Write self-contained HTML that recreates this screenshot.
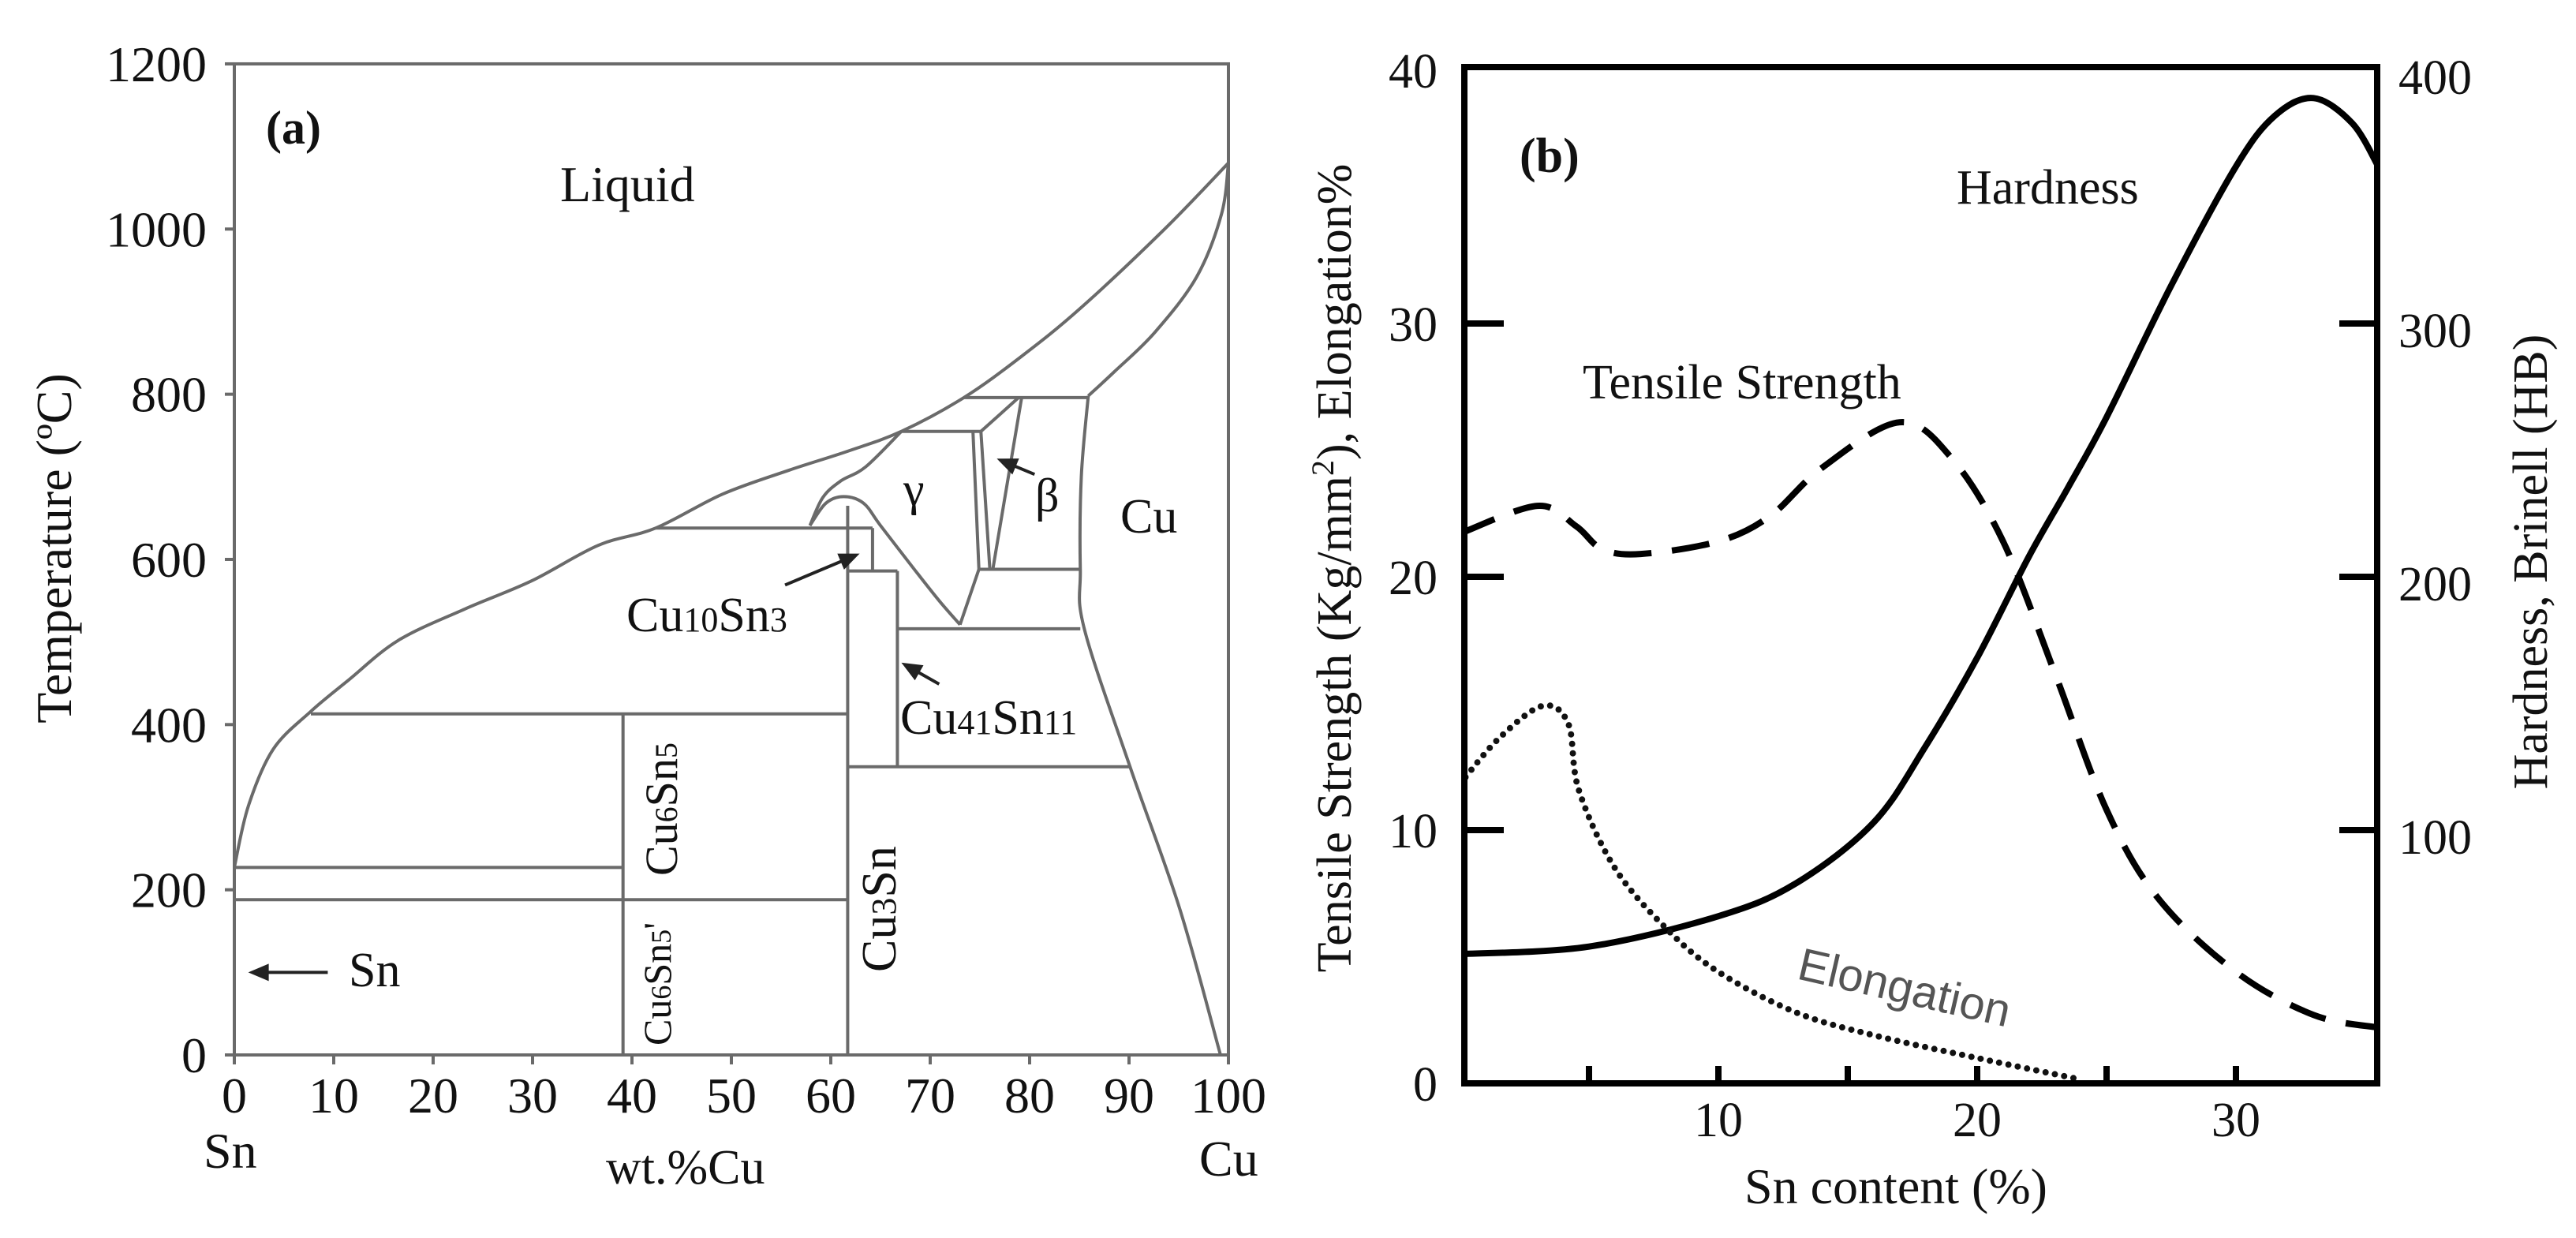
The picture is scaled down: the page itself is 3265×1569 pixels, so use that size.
<!DOCTYPE html>
<html><head><meta charset="utf-8"><style>
html,body{margin:0;padding:0;background:#fff}
svg{display:block}
text{font-family:"Liberation Serif",serif;fill:#111}
</style></head><body>
<svg id="fig" width="3265" height="1569" viewBox="0 0 3265 1569" xmlns="http://www.w3.org/2000/svg">
<g id="left"></g>
<g id="right"></g>
</svg>
<script>
// ---------- Panel (b) data ----------
const hardX = [0, 5, 10, 13, 16, 18, 20, 22, 23.5, 25, 27.5, 30, 31.5, 33, 34.5, 35.5];
const hardY = [5.1, 5.4, 6.6, 7.9, 10.3, 13.3, 16.8, 20.8, 23.5, 26.3, 31.5, 36.2, 38.2, 38.9, 37.9, 36.2];
const tensX = [0, 3, 4.5, 5.5, 7, 10, 12, 14, 17, 19, 21, 23, 25, 27, 30, 33, 35.5];
const tensY = [21.7, 22.8, 22.0, 21.1, 20.9, 21.4, 22.4, 24.3, 26.1, 24.7, 21.4, 16.2, 10.8, 7.3, 4.4, 2.7, 2.2];
const elonX = [0, 1.5, 3.2, 4.2, 4.6, 6, 8, 10, 13, 16, 20, 24];
const elonY = [11.8, 13.6, 14.9, 14.2, 11.6, 8.5, 6.1, 4.4, 2.8, 1.9, 1.0, 0.15];
const leftTicks = [0, 10, 20, 30, 40];
const rightTicks = [100, 200, 300, 400];
const xTicks = [10, 20, 30];

// ---------- Panel (a) data (wt.%Cu, °C) ----------
const liqX = [0, 1.4, 3.9, 7.7, 11.5, 16.5, 23.2, 29.9, 36.6, 42.4, 49.1, 55.8, 61.7, 67.1, 73.4, 79.2, 85.1, 93.5, 100];
const liqT = [227, 301, 370, 416, 454, 502, 540, 574, 617, 638, 679, 708, 731, 755, 796, 846, 904, 999, 1080];
const solX = [100, 99.3, 96.8, 92.6, 88.5, 85.9];
const solT = [1080, 1018, 942, 875, 827, 798];
const cuSideX = [85.9, 85.2, 85.1, 85.5, 90.1, 95.1, 99.2];
const cuSideT = [798, 700, 588, 516, 349, 177, 0];
const gOutX = [57.9, 59.2, 61.0, 63.5, 67.1];
const gOutT = [641, 675, 695, 712, 755];
const gInX = [57.9, 59.5, 61.3, 63.3, 65.0, 68.4, 70.9, 73.0];
const gInT = [641, 668, 676, 668, 641, 588, 550, 521];
const hLineT = [796, 755, 638, 586, 588, 516, 413, 349, 227, 188];
const hLineX1 = [73.4, 67.1, 42.4, 61.7, 74.9, 66.7, 7.7, 61.7, 0, 0];
const hLineX2 = [85.9, 75.1, 64.2, 66.7, 85.1, 85.1, 61.7, 90.1, 39.1, 61.7];
const vLineX = [39.1, 61.7, 66.7, 64.2];
const vLineT1 = [0, 0, 349, 586];
const vLineT2 = [413, 665, 586, 638];
const segA = [[74.3,755,74.9,588],[74.9,588,73.0,521],[75.1,755,76.0,588],[75.1,755,78.9,796],[79.2,796,76.3,588]];
const arrows = [[55.4,569,62.9,607],[80.5,703,76.7,722],[70.9,449,67.1,475],[9.4,100,1.4,100]];
const aXTicks = [0,10,20,30,40,50,60,70,80,90,100];
const aYTicks = [0,200,400,600,800,1000,1200];

const NS = "http://www.w3.org/2000/svg";
function mk(parent, tag, attrs, txt) {
  const e = document.createElementNS(NS, tag);
  for (const k in attrs) e.setAttribute(k, attrs[k]);
  if (txt !== undefined) e.textContent = txt;
  parent.appendChild(e);
  return e;
}
function smooth(pts) {
  let d = "M" + pts[0][0] + "," + pts[0][1];
  for (let i = 0; i < pts.length - 1; i++) {
    const p0 = pts[Math.max(0, i - 1)], p1 = pts[i], p2 = pts[i + 1], p3 = pts[Math.min(pts.length - 1, i + 2)];
    const c1x = p1[0] + (p2[0] - p0[0]) / 6, c1y = p1[1] + (p2[1] - p0[1]) / 6;
    const c2x = p2[0] - (p3[0] - p1[0]) / 6, c2y = p2[1] - (p3[1] - p1[1]) / 6;
    d += " C" + c1x + "," + c1y + " " + c2x + "," + c2y + " " + p2[0] + "," + p2[1];
  }
  return d;
}

// ===== Panel (a) =====
const L = document.getElementById("left");
const ax = v => 297 + v * 12.6;
const ay = t => 1337 - t * 1.0467;
const G = "#6a6a6a";
let e;
e = mk(L, "rect", {x: ax(0), y: ay(1200), width: ax(100) - ax(0), height: ay(0) - ay(1200), fill: "none", stroke: G, "stroke-width": 4});


aXTicks.forEach(v => {
  e = mk(L, "line", {x1: ax(v), x2: ax(v), y1: ay(0), y2: ay(0) + 12, stroke: G, "stroke-width": 4});
  
  
  e = mk(L, "text", {x: ax(v), y: 1410, "font-size": 64, "text-anchor": "middle"}, String(v));
  
  
});
aYTicks.forEach(v => {
  e = mk(L, "line", {x1: ax(0) - 12, x2: ax(0), y1: ay(v), y2: ay(v), stroke: G, "stroke-width": 4});
  
  
  e = mk(L, "text", {x: 262, y: ay(v) + 22, "font-size": 64, "text-anchor": "end"}, String(v));
  
  
});
function curveA(xs, ts, name) {
  const el = mk(L, "path", {d: smooth(xs.map((x, i) => [ax(x), ay(ts[i])])), fill: "none", stroke: G, "stroke-width": 4});
  
  
}
curveA(liqX, liqT, "liquidus-curve");
curveA(solX, solT, "solidus-curve");
curveA(cuSideX, cuSideT, "cu-solvus-curve");
curveA(gOutX, gOutT, "gamma-outer-curve");
curveA(gInX, gInT, "gamma-inner-curve");
hLineT.forEach((t, i) => {
  e = mk(L, "line", {x1: ax(hLineX1[i]), x2: ax(hLineX2[i]), y1: ay(t), y2: ay(t), stroke: G, "stroke-width": 4});
  
  
});
vLineX.forEach((x, i) => {
  e = mk(L, "line", {x1: ax(x), x2: ax(x), y1: ay(vLineT1[i]), y2: ay(vLineT2[i]), stroke: G, "stroke-width": 4});
  
  
});
segA.forEach(s => {
  e = mk(L, "line", {x1: ax(s[0]), y1: ay(s[1]), x2: ax(s[2]), y2: ay(s[3]), stroke: G, "stroke-width": 4});
  
  
});
arrows.forEach(a => {
  const x1 = ax(a[0]), y1 = ay(a[1]), x2 = ax(a[2]), y2 = ay(a[3]);
  const ang = Math.atan2(y2 - y1, x2 - x1);
  e = mk(L, "line", {x1: x1, y1: y1, x2: x2 - 18 * Math.cos(ang), y2: y2 - 18 * Math.sin(ang), stroke: "#222", "stroke-width": 4});
  
  
  const hx = x2, hy = y2, b = 26, w = 11;
  const bx = hx - b * Math.cos(ang), by = hy - b * Math.sin(ang);
  e = mk(L, "polygon", {points: hx + "," + hy + " " + (bx - w * Math.sin(ang)) + "," + (by + w * Math.cos(ang)) + " " + (bx + w * Math.sin(ang)) + "," + (by - w * Math.cos(ang)), fill: "#222"});
  
  
});
</script>
<script>
// Panel (a) labels
(function(){
const L = document.getElementById("left");
const items = [
 ['<text x="337" y="182" font-size="60" font-weight="bold">(a)</text>','panel-label-a'],
 ['<text x="710" y="255" font-size="64">Liquid</text>','liquid-label'],
 ['<text x="794" y="800" font-size="62">Cu<tspan font-size="44">10</tspan>Sn<tspan font-size="44">3</tspan></text>','cu10sn3-label'],
 ['<text x="1145" y="640" font-size="60">γ</text>','gamma-label'],
 ['<text x="1312" y="648" font-size="60">β</text>','beta-label'],
 ['<text x="1420" y="675" font-size="62">Cu</text>','cu-phase-label'],
 ['<text x="1141" y="930" font-size="62">Cu<tspan font-size="44">41</tspan>Sn<tspan font-size="44">11</tspan></text>','cu41sn11-label'],
 ['<text transform="translate(858,1110) rotate(-90)" font-size="58">Cu<tspan font-size="40">6</tspan>Sn<tspan font-size="40">5</tspan></text>','cu6sn5-label'],
 ['<text transform="translate(850,1325) rotate(-90)" font-size="50">Cu<tspan font-size="36">6</tspan>Sn<tspan font-size="36">5</tspan>\'</text>','cu6sn5-prime-label'],
 ['<text transform="translate(1135,1232) rotate(-90)" font-size="62">Cu<tspan font-size="44">3</tspan>Sn</text>','cu3sn-label'],
 ['<text x="442" y="1250" font-size="62">Sn</text>','sn-phase-label'],
 ['<text x="258" y="1480" font-size="64">Sn</text>','sn-axis-end-label'],
 ['<text x="768" y="1500" font-size="62">wt.%Cu</text>','x-axis-title-a'],
 ['<text x="1520" y="1490" font-size="64">Cu</text>','cu-axis-end-label'],
 ['<text transform="translate(90,695) rotate(-90)" font-size="64" text-anchor="middle">Temperature (ºC)</text>','y-axis-title-a']
];
items.forEach(it => {
  const g = document.createElementNS("http://www.w3.org/2000/svg","g");
  g.innerHTML = it[0];
  const t = g.firstChild;
  
  
  L.appendChild(t);
});
})();
</script>
<script>
// ===== Panel (b) =====
(function(){
const R = document.getElementById("right");
const NS = "http://www.w3.org/2000/svg";
function mk(parent, tag, attrs, txt) {
  const e = document.createElementNS(NS, tag);
  for (const k in attrs) e.setAttribute(k, attrs[k]);
  if (txt !== undefined) e.textContent = txt;
  parent.appendChild(e);
  return e;
}
const bx = v => 1850 + v * 32.8;
const by = v => 1373 - v * 32.1;
const byR = v => by(v / 10);
const X0 = 1856, X1 = 3013, Y0 = 85, Y1 = 1373;
let e;
function smooth(pts) {
  let d = "M" + pts[0][0] + "," + pts[0][1];
  for (let i = 0; i < pts.length - 1; i++) {
    const p0 = pts[Math.max(0, i - 1)], p1 = pts[i], p2 = pts[i + 1], p3 = pts[Math.min(pts.length - 1, i + 2)];
    d += " C" + (p1[0] + (p2[0] - p0[0]) / 6) + "," + (p1[1] + (p2[1] - p0[1]) / 6) + " " + (p2[0] - (p3[0] - p1[0]) / 6) + "," + (p2[1] - (p3[1] - p1[1]) / 6) + " " + p2[0] + "," + p2[1];
  }
  return d;
}
const clip = mk(R, "clipPath", {id: "clipb"});
mk(clip, "rect", {x: X0, y: Y0, width: X1 - X0, height: Y1 - Y0});
e = mk(R, "path", {d: smooth(hardX.map((x, i) => [bx(x), by(hardY[i])])), fill: "none", stroke: "#000", "stroke-width": 8, "clip-path": "url(#clipb)"});


e = mk(R, "path", {d: smooth(tensX.map((x, i) => [bx(x), by(tensY[i])])), fill: "none", stroke: "#000", "stroke-width": 8, "stroke-dasharray": "48 26", "clip-path": "url(#clipb)"});


e = mk(R, "path", {d: smooth(elonX.map((x, i) => [bx(x), by(elonY[i])])), fill: "none", stroke: "#111", "stroke-width": 8, "stroke-dasharray": "0 12", "stroke-linecap": "round", "clip-path": "url(#clipb)"});


e = mk(R, "rect", {x: X0, y: Y0, width: X1 - X0, height: Y1 - Y0, fill: "none", stroke: "#000", "stroke-width": 8});


leftTicks.forEach(v => {
  if (v > 0 && v < 40) {
    e = mk(R, "line", {x1: X0, x2: X0 + 50, y1: by(v), y2: by(v), stroke: "#000", "stroke-width": 8});
    
    
  }
  e = mk(R, "text", {x: 1822, y: by(v) + 22, "font-size": 62, "text-anchor": "end"}, String(v));
  
  
});
rightTicks.forEach(v => {
  if (v < 400) {
    e = mk(R, "line", {x1: X1 - 48, x2: X1, y1: byR(v), y2: byR(v), stroke: "#000", "stroke-width": 8});
    
    
  }
  e = mk(R, "text", {x: 3040, y: byR(v) + 30, "font-size": 62}, String(v));
  
  
});
[5, 10, 15, 20, 25, 30].forEach(v => {
  e = mk(R, "line", {x1: bx(v), x2: bx(v), y1: Y1, y2: Y1 - 22, stroke: "#000", "stroke-width": 8});
  
  
});
xTicks.forEach(v => {
  e = mk(R, "text", {x: bx(v), y: 1440, "font-size": 62, "text-anchor": "middle"}, String(v));
  
  
});
const items = [
 ['<text x="1926" y="218" font-size="62" font-weight="bold">(b)</text>','panel-label-b'],
 ['<text x="2480" y="258" font-size="62">Hardness</text>','hardness-label'],
 ['<text x="2006" y="505" font-size="62">Tensile Strength</text>','tensile-strength-label'],
 ['<text transform="translate(2276,1240) rotate(13)" font-size="58" style="font-family:\'Liberation Sans\',sans-serif;fill:#555">Elongation</text>','elongation-label'],
 ['<text x="2403" y="1525" font-size="64" text-anchor="middle">Sn content (%)</text>','x-axis-title-b'],
 ['<text transform="translate(1712,720) rotate(-90)" font-size="62" text-anchor="middle">Tensile Strength (Kg/mm<tspan font-size="40" dy="-22">2</tspan><tspan dy="22">), Elongation%</tspan></text>','left-y-axis-title-b'],
 ['<text transform="translate(3228,712) rotate(-90)" font-size="62" text-anchor="middle">Hardness, Brinell (HB)</text>','right-y-axis-title-b']
];
items.forEach(it => {
  const g = document.createElementNS(NS, "g");
  g.innerHTML = it[0];
  const t = g.firstChild;
  
  
  R.appendChild(t);
});
})();
</script>
</body></html>
